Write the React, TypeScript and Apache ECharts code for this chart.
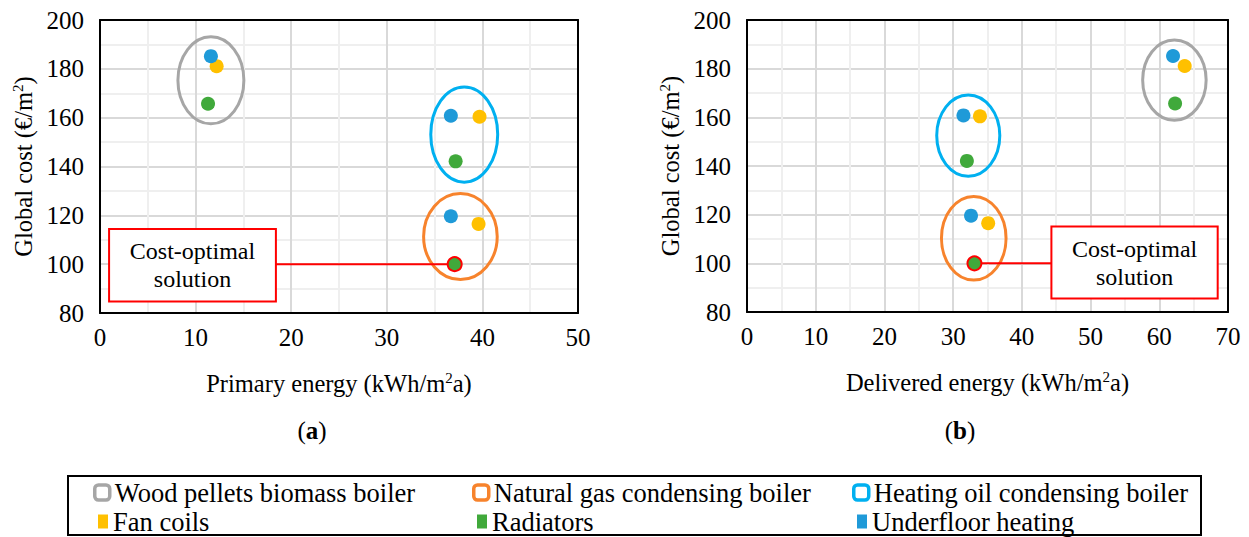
import React, { useEffect, useRef } from "react";
import * as echarts from "echarts";

const FONT = "Liberation Serif";

// Boiler order: wood pellets, natural gas, heating oil
const boilers = [
  "Wood pellets biomass boiler",
  "Natural gas condensing boiler",
  "Heating oil condensing boiler",
];
const boilerColors = ["#a6a6a6", "#f7832c", "#00b0f0"];
const heatingTypes = ["Fan coils", "Radiators", "Underfloor heating"];
const heatingColors = ["#ffc000", "#40a93b", "#1f9ad8"];

// Global cost (€/m²) per boiler
const fanCoilsCost = [181.1, 116.5, 160.4];
const radiatorsCost = [165.7, 100.0, 142.1];
const underfloorCost = [185.2, 119.6, 160.8];

// Primary energy (kWh/m²a) per boiler
const fanCoilsPrimary = [12.2, 39.6, 39.7];
const radiatorsPrimary = [11.3, 37.1, 37.2];
const underfloorPrimary = [11.6, 36.7, 36.7];

// Delivered energy (kWh/m²a) per boiler
const fanCoilsDelivered = [63.7, 35.1, 33.9];
const radiatorsDelivered = [62.3, 33.1, 32.0];
const underfloorDelivered = [62.0, 32.6, 31.5];

// Group ellipses [centre x, centre y, radius x, radius y] in data units
const ellipsesPrimary = [
  [11.6, 175.3, 3.45, 17.8],
  [37.7, 111.3, 3.85, 17.6],
  [38.1, 153.1, 3.5, 19.5],
];
const ellipsesDelivered = [
  [62.2, 175.3, 4.62, 16.5],
  [33.0, 110.3, 4.7, 17.2],
  [32.2, 152.5, 4.59, 16.7],
];

// Callout boxes [x0, y0, x1, y1] in data units
const calloutPrimary = [0.95, 84.7, 18.4, 114.4];
const calloutDelivered = [44.3, 85.5, 68.5, 115.1];
const calloutText = "Cost-optimal\nsolution";

const xTicksPrimary = { min: 0, max: 50, interval: 10 };
const xTicksDelivered = { min: 0, max: 70, interval: 10 };
const yTicks = { min: 80, max: 200, interval: 20 };

function zip(xs: number[], ys: number[]) {
  return xs.map((x, i) => [x, ys[i]]);
}

export default function App() {
  const ref = useRef<HTMLDivElement>(null);

  useEffect(() => {
    if (!ref.current) return;
    const chart = echarts.init(ref.current, undefined, { renderer: "svg" });

    const optIdx = radiatorsCost.indexOf(Math.min(...radiatorsCost));

    const nameStyle = {
      fontSize: 24.5,
      fontFamily: FONT,
      color: "#000",
      lineHeight: 27,
      rich: { sup: { fontSize: 15, lineHeight: 15, verticalAlign: "top", fontFamily: FONT, color: "#000" } },
    };

    const mainX = (t: any, grid: number, name: string) => ({
      type: "value",
      gridIndex: grid,
      position: "bottom",
      min: t.min,
      max: t.max,
      interval: t.interval,
      axisLine: { show: false },
      axisTick: { show: false },
      minorTick: { show: false, splitNumber: 2 },
      splitLine: { show: true, lineStyle: { color: "#d9d9d9", width: 2 } },
      minorSplitLine: { show: true, lineStyle: { color: "#efefef", width: 2 } },
      axisLabel: { fontSize: 25, fontFamily: FONT, color: "#000", margin: 12 },
      name,
      nameLocation: "middle",
      nameGap: 57,
      nameTextStyle: nameStyle,
      z: 0,
    });
    const mainY = (grid: number) => ({
      type: "value",
      gridIndex: grid,
      position: "left",
      min: yTicks.min,
      max: yTicks.max,
      interval: yTicks.interval,
      axisLine: { show: false },
      axisTick: { show: false },
      minorTick: { show: false, splitNumber: 2 },
      splitLine: { show: true, lineStyle: { color: "#d9d9d9", width: 2 } },
      minorSplitLine: { show: true, lineStyle: { color: "#efefef", width: 2 } },
      axisLabel: { fontSize: 25, fontFamily: FONT, color: "#000", margin: 16 },
      name: "Global cost (€/m{sup|2})",
      nameLocation: "middle",
      nameGap: 63,
      nameTextStyle: nameStyle,
      z: 0,
    });
    const frameX = (t: any, grid: number, pos: string) => ({
      type: "value",
      gridIndex: grid,
      position: pos,
      min: t.min,
      max: t.max,
      interval: t.interval,
      axisLine: { show: true, onZero: false, lineStyle: { color: "#000", width: 2 } },
      axisTick: { show: false },
      axisLabel: { show: false },
      splitLine: { show: false },
      z: 1,
    });
    const frameY = (grid: number, pos: string) => ({
      type: "value",
      gridIndex: grid,
      position: pos,
      min: yTicks.min,
      max: yTicks.max,
      interval: yTicks.interval,
      axisLine: { show: true, onZero: false, lineStyle: { color: "#000", width: 2 } },
      axisTick: { show: false },
      axisLabel: { show: false },
      splitLine: { show: false },
      z: 1,
    });

    const ellipseSeries = (ells: number[][], xi: number, yi: number) =>
      boilers.map((b, i) => ({
        type: "custom",
        name: b,
        xAxisIndex: xi,
        yAxisIndex: yi,
        z: 3,
        silent: true,
        itemStyle: { color: boilerColors[i] },
        data: [ells[i]],
        renderItem: (_p: any, api: any) => {
          const c = api.coord([api.value(0), api.value(1)]);
          const s = api.size([api.value(2), api.value(3)]);
          return {
            type: "ellipse",
            shape: { cx: c[0], cy: c[1], rx: s[0], ry: s[1] },
            style: { fill: "none", stroke: boilerColors[i], lineWidth: 3 },
          };
        },
      }));

    const calloutSeries = (box: number[], target: number[], xi: number, yi: number) => ({
      type: "custom",
      name: "callout",
      xAxisIndex: xi,
      yAxisIndex: yi,
      z: 4,
      silent: true,
      data: [[box[0], box[1], box[2], box[3], target[0], target[1]]],
      renderItem: (_p: any, api: any) => {
        const p0 = api.coord([api.value(0), api.value(1)]);
        const p1 = api.coord([api.value(2), api.value(3)]);
        const pt = api.coord([api.value(4), api.value(5)]);
        const left = Math.min(p0[0], p1[0]);
        const right = Math.max(p0[0], p1[0]);
        const top = Math.min(p0[1], p1[1]);
        const bottom = Math.max(p0[1], p1[1]);
        const edgeX = pt[0] > right ? right : left;
        return {
          type: "group",
          children: [
            {
              type: "line",
              shape: { x1: edgeX, y1: pt[1], x2: pt[0], y2: pt[1] },
              style: { stroke: "#ff0000", lineWidth: 2 },
            },
            {
              type: "rect",
              shape: { x: left, y: top, width: right - left, height: bottom - top },
              style: { fill: "#fff", stroke: "#ff0000", lineWidth: 2 },
            },
            {
              type: "text",
              style: {
                text: calloutText,
                x: (left + right) / 2,
                y: (top + bottom) / 2,
                align: "center",
                verticalAlign: "middle",
                fontSize: 24,
                lineHeight: 28,
                fontFamily: FONT,
                fill: "#000",
              },
            },
          ],
        };
      },
    });

    const heatingData = [
      [fanCoilsPrimary, fanCoilsCost, fanCoilsDelivered],
      [radiatorsPrimary, radiatorsCost, radiatorsDelivered],
      [underfloorPrimary, underfloorCost, underfloorDelivered],
    ];

    const scatterSeries = (which: number, xi: number, yi: number) =>
      heatingTypes.map((h, i) => {
        const xs = which === 0 ? heatingData[i][0] : heatingData[i][2];
        const pts = zip(xs, heatingData[i][1]).map((p, k) =>
          i === 1 && k === optIdx
            ? { value: p, itemStyle: { borderColor: "#ff0000", borderWidth: 2 } }
            : { value: p }
        );
        return {
          type: "scatter",
          name: h,
          xAxisIndex: xi,
          yAxisIndex: yi,
          z: 5,
          symbolSize: 14,
          itemStyle: { color: heatingColors[i], opacity: 1 },
          data: pts,
        };
      });

    const legendPos = [
      [93, 479],
      [472, 479],
      [852, 479],
    ];
    const legends: any[] = [];
    boilers.forEach((b, i) => {
      legends.push({
        left: legendPos[i][0],
        top: legendPos[i][1],
        padding: 0,
        selectedMode: false,
        itemWidth: 15,
        itemHeight: 15,
        textStyle: { fontSize: 26.5, fontFamily: FONT, color: "#000" },
        data: [
          {
            name: b,
            icon: "roundRect",
            itemStyle: { color: "#fff", borderColor: boilerColors[i], borderWidth: 3.5 },
          },
        ],
      });
    });
    heatingTypes.forEach((h, i) => {
      legends.push({
        left: legendPos[i][0] + 5,
        top: legendPos[i][1] + 29,
        padding: 0,
        selectedMode: false,
        itemWidth: 10,
        itemHeight: 14,
        textStyle: { fontSize: 26.5, fontFamily: FONT, color: "#000" },
        data: [{ name: h, icon: "rect", itemStyle: { color: heatingColors[i], borderWidth: 0 } }],
      });
    });

    const optPrimary = [radiatorsPrimary[optIdx], radiatorsCost[optIdx]];
    const optDelivered = [radiatorsDelivered[optIdx], radiatorsCost[optIdx]];

    chart.setOption({
      animation: false,
      backgroundColor: "#fff",
      textStyle: { fontFamily: FONT },
      grid: [
        { left: 100, top: 20, width: 478, height: 293, containLabel: false },
        { left: 747, top: 20, width: 481, height: 292, containLabel: false },
      ],
      xAxis: [
        mainX(xTicksPrimary, 0, "Primary energy (kWh/m{sup|2}a)"),
        frameX(xTicksPrimary, 0, "top"),
        frameX(xTicksPrimary, 0, "bottom"),
        mainX(xTicksDelivered, 1, "Delivered energy (kWh/m{sup|2}a)"),
        frameX(xTicksDelivered, 1, "top"),
        frameX(xTicksDelivered, 1, "bottom"),
      ],
      yAxis: [
        mainY(0),
        frameY(0, "left"),
        frameY(0, "right"),
        mainY(1),
        frameY(1, "left"),
        frameY(1, "right"),
      ],
      legend: legends,
      graphic: [
        {
          type: "rect",
          shape: { x: 68, y: 476, width: 1133, height: 59 },
          style: { fill: "none", stroke: "#000", lineWidth: 2 },
        },
        {
          type: "text",
          x: 312,
          y: 430,
          style: {
            text: "({b|a})",
            align: "center",
            verticalAlign: "middle",
            fontSize: 25,
            fontFamily: FONT,
            fill: "#000",
            rich: { b: { fontWeight: "bold", fontSize: 25, fontFamily: FONT, fill: "#000" } },
          },
        },
        {
          type: "text",
          x: 960,
          y: 430,
          style: {
            text: "({b|b})",
            align: "center",
            verticalAlign: "middle",
            fontSize: 25,
            fontFamily: FONT,
            fill: "#000",
            rich: { b: { fontWeight: "bold", fontSize: 25, fontFamily: FONT, fill: "#000" } },
          },
        },
      ],
      series: [
        ...ellipseSeries(ellipsesPrimary, 0, 0),
        ...ellipseSeries(ellipsesDelivered, 3, 3),
        calloutSeries(calloutPrimary, optPrimary, 0, 0),
        calloutSeries(calloutDelivered, optDelivered, 3, 3),
        ...scatterSeries(0, 0, 0),
        ...scatterSeries(1, 3, 3),
      ],
    });

    return () => chart.dispose();
  }, []);

  return (
    <div
      ref={ref}
      style={{ position: "absolute", left: 0, top: 0, width: 1249, height: 537 }}
    />
  );
}
